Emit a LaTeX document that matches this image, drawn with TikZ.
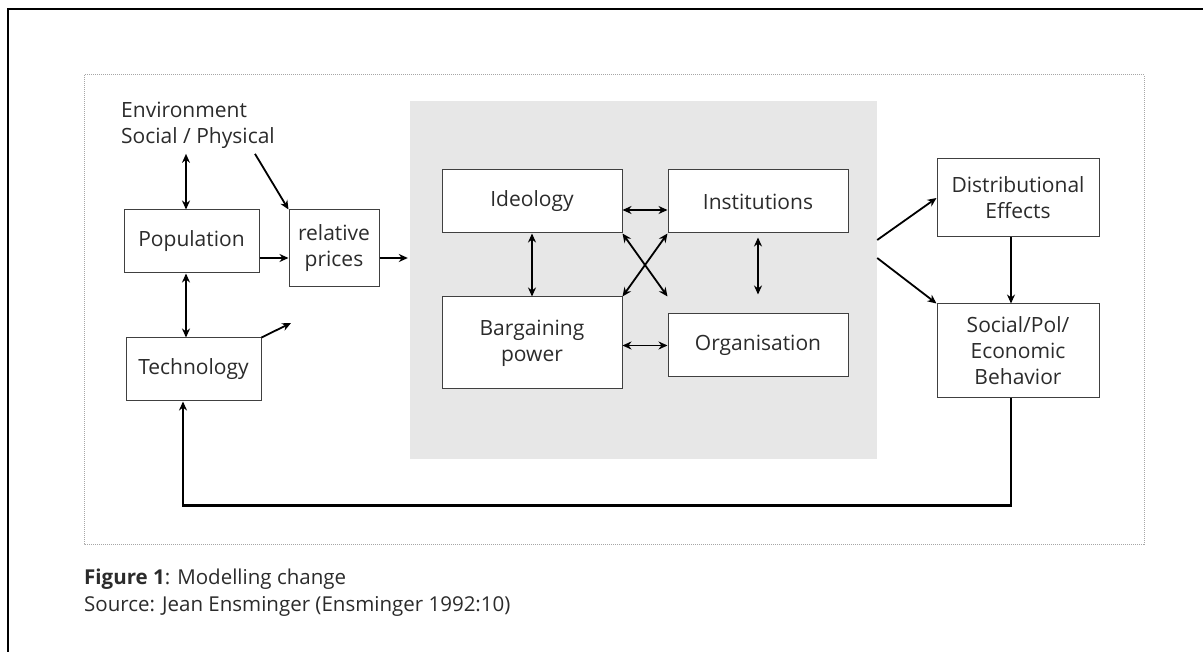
\documentclass[tikz,border=0pt]{standalone}
\usepackage{fontspec}
\setmainfont{Open Sans}
\usetikzlibrary{calc,arrows.meta}
\definecolor{panelgray}{HTML}{E7E7E7}
\definecolor{inkgray}{HTML}{2B2B2B}
\newcommand\boxfont{\fontsize{21}{26}\selectfont}
\newcommand\capfont{\fontsize{20.5}{27}\selectfont}

\begin{document}
\begin{tikzpicture}[x=1pt, y=-1pt, >={Stealth[length=9pt,width=8pt]}, text=inkgray,
		box/.style={draw=black!75, line width=1pt, fill=white, align=center, inner sep=0pt, font=\boxfont},
		link/.style={line width=1.8pt}]
		%%%%% START %%%%%
		
		\useasboundingbox (0,0) rectangle (1203,652);
		\draw[line width=2pt] (8,652) -- (8,9) -- (1203,9);
		\draw[black!35, densely dotted, line width=1pt] (84,75) rectangle (1144,544);
		
		\node[fill=panelgray, minimum width=467pt, minimum height=358pt, inner sep=0pt] (panel) at (643.5,280) {};
		
		% left column
		\node[box, minimum width=135pt, minimum height=63pt] (pop) at (191.5,241.5) {Population};
		\node[box, minimum width=90pt, minimum height=77pt] (prices) at (334,248.5) {relative\\prices};
		\node[box, minimum width=135pt, minimum height=63pt] (tech) at (193.5,369.5) {Technology};
		\node[anchor=north west, align=left, inner sep=0pt, font=\boxfont] (env) at (121,102) {Environment\\Social / Physical};
		
		% inside the panel
		\node[box, minimum width=180pt, minimum height=63pt] (ideo) at (532,201.5) {Ideology};
		\node[box, minimum width=180pt, minimum height=63pt] (inst) at (758,201.5) {Institutions};
		\node[box, minimum width=180pt, minimum height=92pt] (barg) at (532,343) {Bargaining\\power};
		\node[box, minimum width=180pt, minimum height=63pt] (org) at (758,345.5) {Organisation};
		
		% right column
		\node[box, minimum width=162pt, minimum height=78pt] (dist) at (1018,198) {Distributional\\Effects};
		\node[box, minimum width=162pt, minimum height=94pt] (behav) at (1018,351) {Social/Pol/\\Economic\\Behavior};
		
		\coordinate (envfoot) at ([yshift=-5pt]env.south);
		\coordinate (lvl) at (0,258);
		\coordinate (techout) at (291,323);
		
		\draw[link, <->] ([xshift=-5.5pt]pop.north |- envfoot) -- ([xshift=-5.5pt]pop.north);
		\draw[link, ->] ([xshift=134pt]env.south west |- envfoot) -- (prices.north west);
		\draw[link, ->] (pop.east |- lvl) -- (prices.west |- lvl);
		\draw[link, ->] (prices.east |- lvl) -- ([xshift=-2pt]panel.west |- lvl);
		\draw[link, <->] ([xshift=-5.5pt]pop.south) -- ([xshift=-5.5pt]pop.south |- tech.north);
		\draw[link, ->] (tech.north east) -- (techout);
		
		\draw[link, <->] (ideo.south) -- (barg.north);
		\draw[link, <->] ([yshift=-8.5pt]ideo.east) -- ([yshift=-8.5pt]inst.west);
		\draw[link, <->] (org.west -| barg.east) -- (org.west);
		\draw[link, <->] ([yshift=-4pt]inst.south) -- ([yshift=19pt]org.north);
		\draw[link, <->] (ideo.south east) -- (inst.south west |- barg.north);
		\draw[link, <->] (inst.south west) -- (barg.north east);
		
		\draw[link, ->] ([yshift=40pt]panel.east) -- (dist.west);
		\draw[link, ->] ([yshift=22pt]panel.east) -- (behav.north west);
		\draw[line width=1.2pt, ->] ([xshift=-7pt]dist.south) -- ([xshift=-7pt]behav.north);
		
		\draw[line width=2.5pt, ->] ([xshift=-7pt]behav.south) -- ++(0,107) -| ([xshift=-10.5pt]tech.south);
		
		% caption (base is the last line)
		\node[anchor=base west, inner sep=0pt, align=left, font=\capfont] (caption) at (84,611) {\textbf{Figure 1}: Modelling change\\Source: Jean Ensminger (Ensminger 1992:10)};
		
		%%%%% END %%%%%
	\end{tikzpicture}
\end{document}
